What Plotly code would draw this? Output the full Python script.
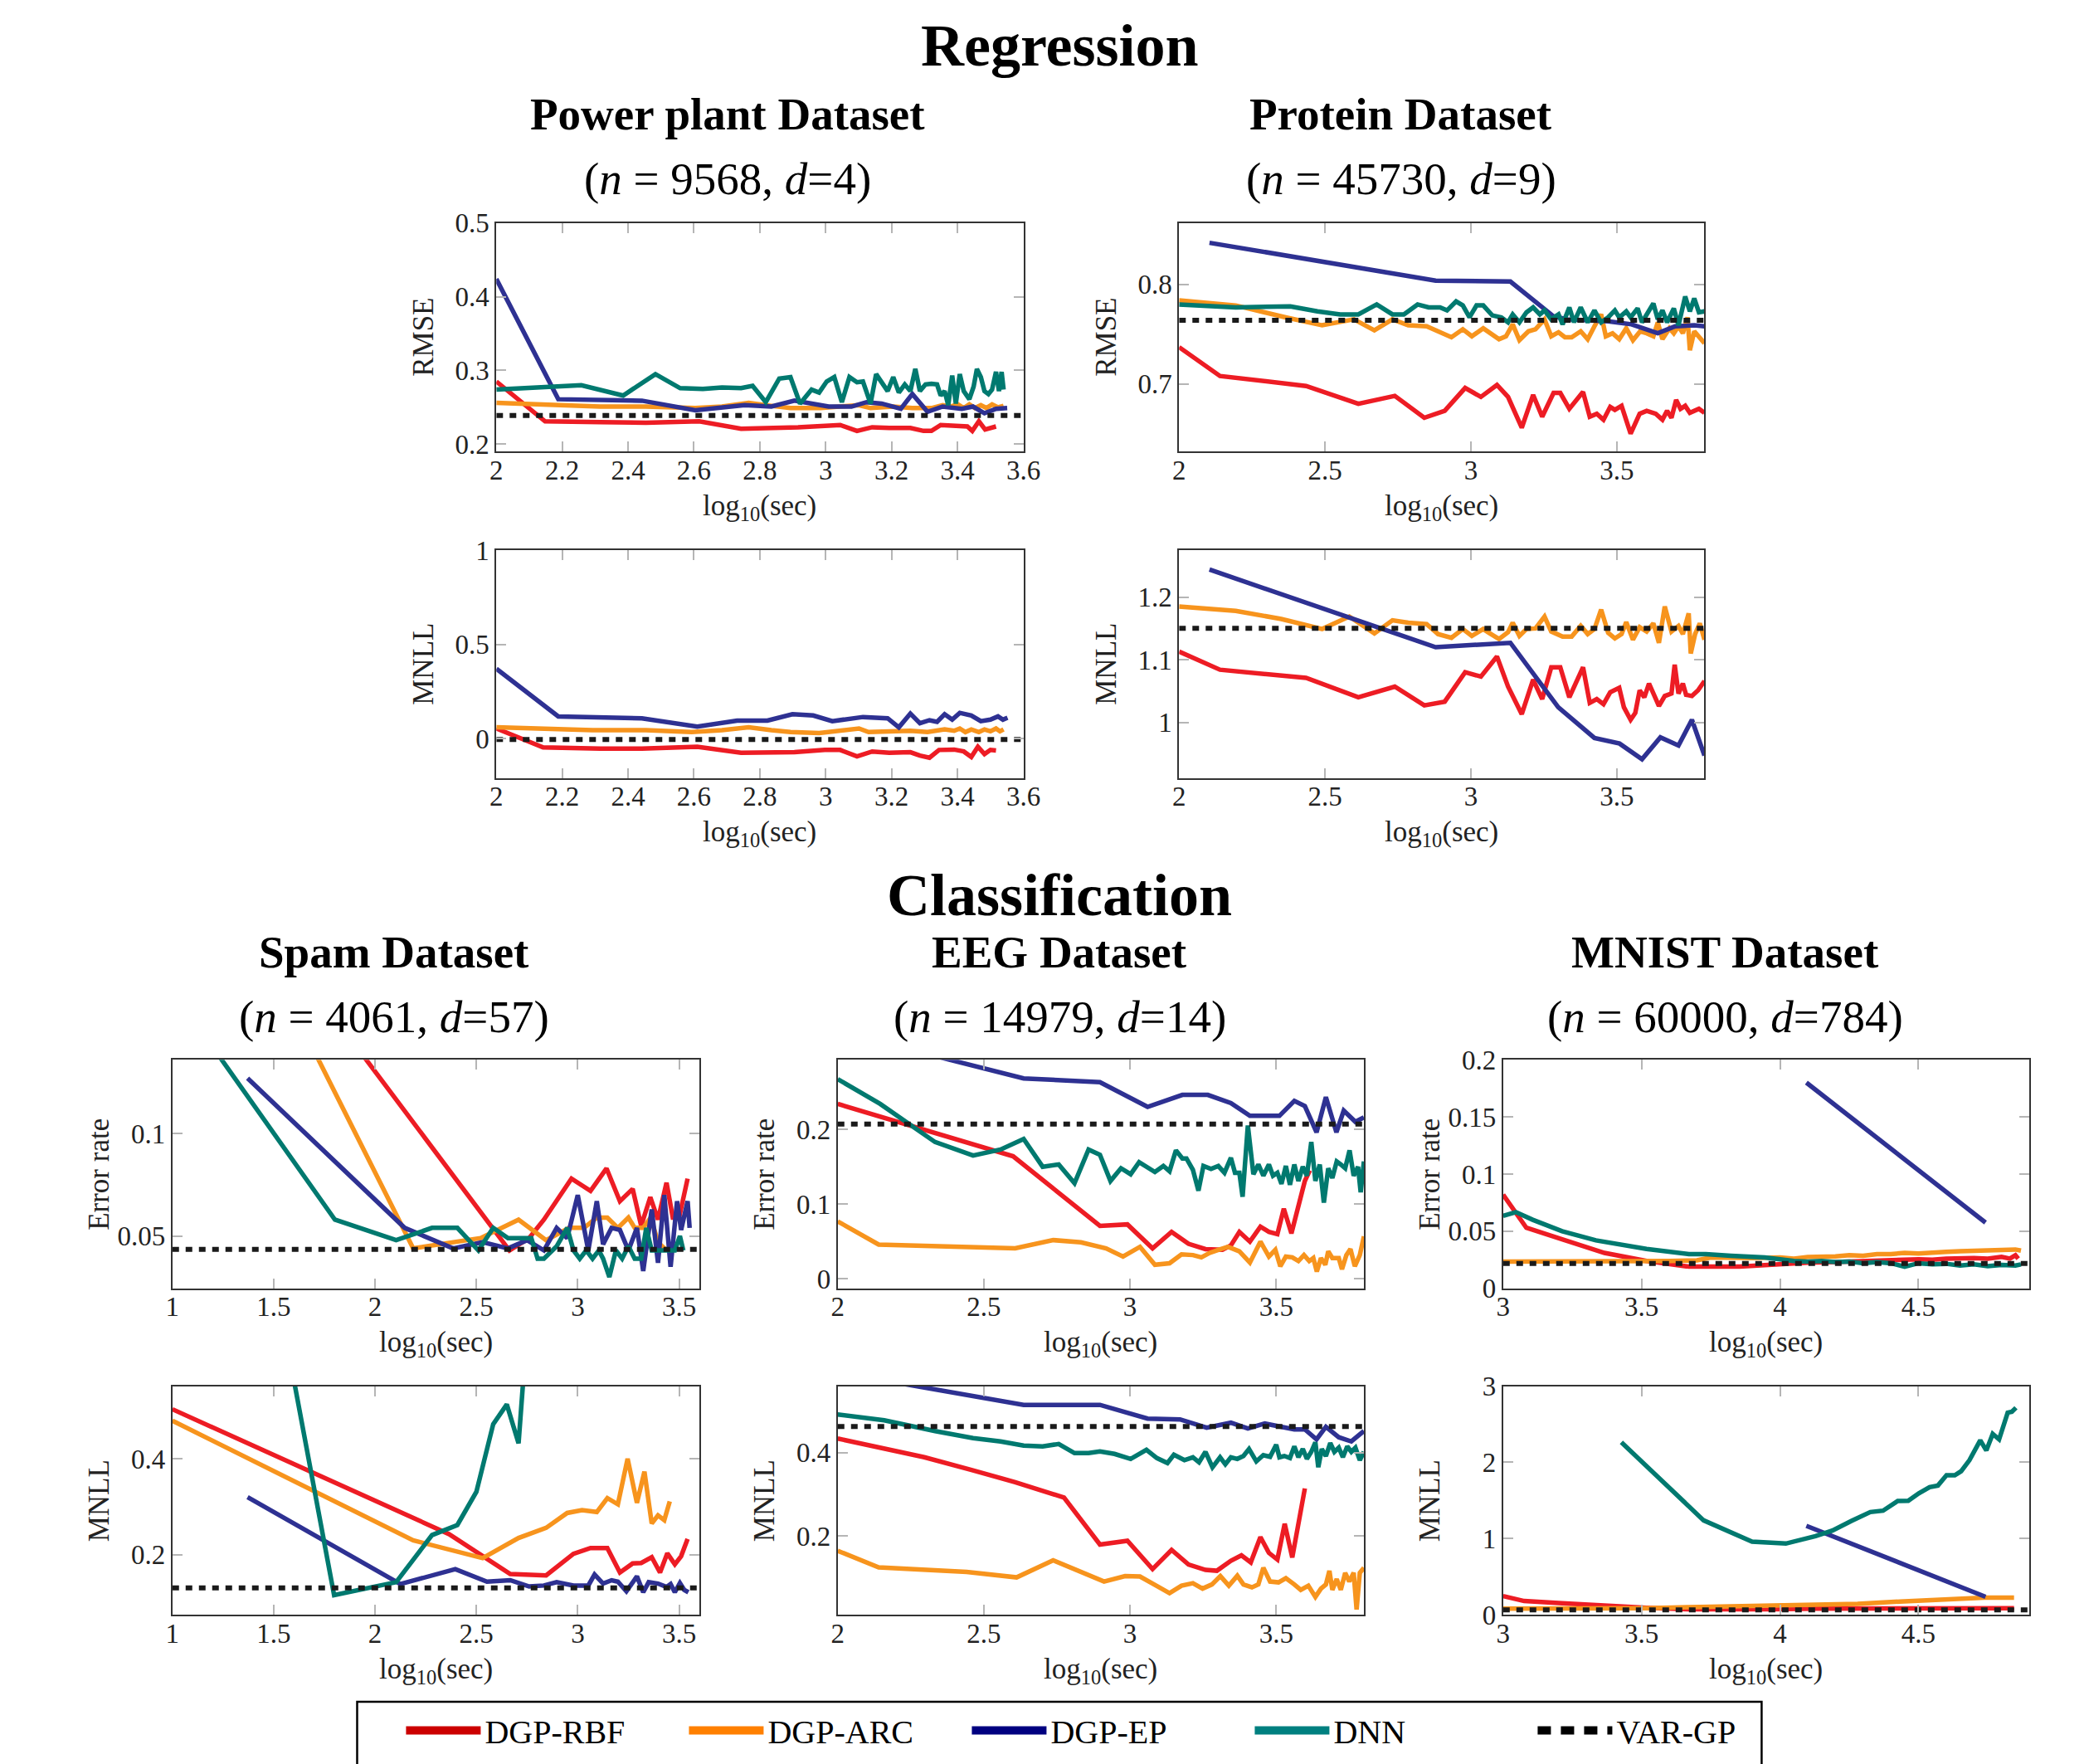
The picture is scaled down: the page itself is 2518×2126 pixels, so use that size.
import plotly.graph_objects as go

# ---------------- DATA ----------------
SERIES_NAMES = ["DGP-RBF", "DGP-ARC", "DGP-EP", "DNN", "VAR-GP"]

# Power plant RMSE
PP_RMSE_RBF_X = [2.0, 2.148, 2.315, 2.454, 2.616, 2.743, 2.916, 3.044, 3.095, 3.141, 3.193, 3.257, 3.297, 3.321, 3.349, 3.401, 3.43, 3.445, 3.465, 3.484, 3.517]
PP_RMSE_RBF_Y = [0.285, 0.231, 0.230, 0.229, 0.231, 0.221, 0.223, 0.226, 0.218, 0.223, 0.222, 0.222, 0.218, 0.218, 0.226, 0.225, 0.224, 0.218, 0.231, 0.220, 0.224]
PP_RMSE_ARC_X = [2.0, 2.2, 2.315, 2.454, 2.604, 2.685, 2.766, 2.835, 2.893, 2.985, 3.066, 3.1, 3.136, 3.205, 3.263, 3.321, 3.355, 3.378, 3.401, 3.419, 3.436, 3.453, 3.471, 3.488, 3.505, 3.523, 3.54]
PP_RMSE_ARC_Y = [0.256, 0.253, 0.251, 0.251, 0.249, 0.251, 0.256, 0.252, 0.249, 0.249, 0.251, 0.253, 0.249, 0.251, 0.249, 0.249, 0.253, 0.251, 0.254, 0.249, 0.254, 0.249, 0.253, 0.249, 0.254, 0.250, 0.252]
PP_RMSE_EP_X = [2.0, 2.188, 2.442, 2.604, 2.754, 2.835, 2.905, 2.962, 3.009, 3.078, 3.124, 3.17, 3.228, 3.263, 3.309, 3.355, 3.413, 3.447, 3.482, 3.517, 3.551]
PP_RMSE_EP_Y = [0.424, 0.261, 0.259, 0.246, 0.253, 0.251, 0.259, 0.255, 0.251, 0.251, 0.257, 0.255, 0.248, 0.268, 0.244, 0.251, 0.248, 0.251, 0.242, 0.248, 0.249]
PP_RMSE_DNN_X = [2.0, 2.258, 2.385, 2.483, 2.558, 2.627, 2.685, 2.743, 2.778, 2.818, 2.859, 2.893, 2.922, 2.957, 2.98, 3.003, 3.026, 3.049, 3.072, 3.095, 3.113, 3.136, 3.153, 3.17, 3.188, 3.205, 3.222, 3.24, 3.257, 3.272, 3.286, 3.303, 3.321, 3.338, 3.349, 3.361, 3.372, 3.384, 3.395, 3.407, 3.419, 3.436, 3.449, 3.459, 3.471, 3.482, 3.494, 3.505, 3.517, 3.526, 3.534, 3.54]
PP_RMSE_DNN_Y = [0.274, 0.280, 0.266, 0.295, 0.276, 0.275, 0.277, 0.276, 0.279, 0.257, 0.289, 0.291, 0.255, 0.274, 0.270, 0.285, 0.291, 0.257, 0.291, 0.284, 0.285, 0.255, 0.295, 0.283, 0.272, 0.291, 0.270, 0.281, 0.272, 0.302, 0.272, 0.281, 0.282, 0.281, 0.266, 0.272, 0.253, 0.293, 0.255, 0.295, 0.272, 0.261, 0.278, 0.302, 0.291, 0.272, 0.268, 0.274, 0.298, 0.272, 0.298, 0.274]
PP_RMSE_VAR = 0.239

# Protein RMSE
PR_RMSE_RBF_X = [2.0, 2.14, 2.435, 2.614, 2.739, 2.84, 2.91, 2.98, 3.034, 3.089, 3.127, 3.174, 3.213, 3.244, 3.283, 3.306, 3.337, 3.384, 3.407, 3.431, 3.454, 3.477, 3.493, 3.516, 3.547, 3.578, 3.602, 3.633, 3.656, 3.672, 3.687, 3.703, 3.718, 3.734, 3.75, 3.765, 3.781, 3.8]
PR_RMSE_RBF_Y = [0.737, 0.708, 0.698, 0.680, 0.688, 0.666, 0.673, 0.696, 0.687, 0.699, 0.687, 0.656, 0.689, 0.667, 0.691, 0.691, 0.675, 0.692, 0.667, 0.670, 0.664, 0.677, 0.674, 0.678, 0.650, 0.670, 0.673, 0.670, 0.664, 0.673, 0.666, 0.684, 0.675, 0.678, 0.671, 0.673, 0.675, 0.671]
PR_RMSE_ARC_X = [2.0, 2.194, 2.365, 2.49, 2.599, 2.669, 2.731, 2.785, 2.848, 2.933, 2.972, 3.003, 3.042, 3.096, 3.12, 3.143, 3.166, 3.197, 3.221, 3.252, 3.275, 3.3, 3.322, 3.345, 3.376, 3.4, 3.423, 3.446, 3.462, 3.485, 3.508, 3.532, 3.555, 3.58, 3.602, 3.625, 3.64, 3.656, 3.68, 3.695, 3.711, 3.726, 3.742, 3.75, 3.765, 3.781, 3.8]
PR_RMSE_ARC_Y = [0.784, 0.779, 0.767, 0.759, 0.765, 0.754, 0.765, 0.759, 0.758, 0.747, 0.755, 0.748, 0.756, 0.745, 0.748, 0.760, 0.744, 0.753, 0.755, 0.765, 0.748, 0.752, 0.747, 0.747, 0.753, 0.745, 0.758, 0.770, 0.748, 0.751, 0.745, 0.756, 0.744, 0.753, 0.751, 0.748, 0.762, 0.745, 0.756, 0.751, 0.758, 0.751, 0.767, 0.734, 0.753, 0.748, 0.741]
PR_RMSE_EP_X = [2.104, 2.879, 3.135, 3.283, 3.33, 3.4, 3.47, 3.55, 3.64, 3.7, 3.765, 3.8]
PR_RMSE_EP_Y = [0.842, 0.804, 0.803, 0.768, 0.765, 0.764, 0.763, 0.760, 0.751, 0.758, 0.759, 0.758]
PR_RMSE_DNN_X = [2.0, 2.194, 2.381, 2.474, 2.552, 2.614, 2.677, 2.731, 2.77, 2.817, 2.855, 2.894, 2.918, 2.949, 2.972, 2.995, 3.019, 3.042, 3.073, 3.104, 3.127, 3.143, 3.166, 3.19, 3.213, 3.236, 3.252, 3.275, 3.3, 3.314, 3.337, 3.353, 3.376, 3.4, 3.423, 3.446, 3.47, 3.493, 3.508, 3.532, 3.547, 3.571, 3.586, 3.602, 3.625, 3.64, 3.656, 3.672, 3.695, 3.711, 3.734, 3.75, 3.765, 3.781, 3.8]
PR_RMSE_DNN_Y = [0.780, 0.777, 0.778, 0.773, 0.770, 0.770, 0.780, 0.770, 0.770, 0.780, 0.777, 0.777, 0.774, 0.783, 0.779, 0.767, 0.779, 0.779, 0.769, 0.767, 0.762, 0.770, 0.762, 0.772, 0.777, 0.770, 0.774, 0.765, 0.770, 0.760, 0.777, 0.762, 0.777, 0.762, 0.774, 0.762, 0.767, 0.774, 0.767, 0.773, 0.767, 0.776, 0.762, 0.770, 0.781, 0.765, 0.774, 0.762, 0.776, 0.759, 0.788, 0.773, 0.786, 0.772, 0.773]
PR_RMSE_VAR = 0.764

# Power plant MNLL
PP_MNLL_RBF_X = [2.0, 2.142, 2.315, 2.442, 2.61, 2.743, 2.905, 2.997, 3.044, 3.095, 3.141, 3.193, 3.257, 3.286, 3.315, 3.344, 3.39, 3.419, 3.442, 3.462, 3.482, 3.5, 3.517]
PP_MNLL_RBF_Y = [0.053, -0.047, -0.054, -0.054, -0.044, -0.076, -0.073, -0.061, -0.061, -0.095, -0.069, -0.076, -0.073, -0.091, -0.102, -0.061, -0.059, -0.069, -0.098, -0.044, -0.083, -0.061, -0.064]
PP_MNLL_ARC_X = [2.0, 2.188, 2.292, 2.454, 2.593, 2.685, 2.766, 2.835, 2.893, 2.98, 3.044, 3.101, 3.13, 3.193, 3.257, 3.309, 3.361, 3.39, 3.407, 3.424, 3.442, 3.465, 3.482, 3.5, 3.517, 3.529, 3.54]
PP_MNLL_ARC_Y = [0.059, 0.048, 0.044, 0.044, 0.034, 0.044, 0.059, 0.044, 0.034, 0.029, 0.044, 0.053, 0.034, 0.038, 0.041, 0.034, 0.048, 0.041, 0.053, 0.034, 0.048, 0.034, 0.048, 0.038, 0.053, 0.038, 0.048]
PP_MNLL_EP_X = [2.0, 2.188, 2.442, 2.61, 2.731, 2.823, 2.899, 2.962, 3.02, 3.113, 3.188, 3.222, 3.257, 3.286, 3.315, 3.338, 3.361, 3.384, 3.407, 3.442, 3.471, 3.5, 3.523, 3.538, 3.552]
PP_MNLL_EP_Y = [0.370, 0.117, 0.107, 0.063, 0.095, 0.095, 0.129, 0.122, 0.092, 0.114, 0.107, 0.059, 0.132, 0.081, 0.097, 0.088, 0.129, 0.100, 0.136, 0.122, 0.092, 0.100, 0.117, 0.100, 0.110]
PP_MNLL_DNN_X = []
PP_MNLL_DNN_Y = []
PP_MNLL_VAR = -0.005

# Protein MNLL
PR_MNLL_RBF_X = [2.0, 2.14, 2.435, 2.614, 2.739, 2.84, 2.91, 2.98, 3.034, 3.089, 3.127, 3.174, 3.213, 3.244, 3.275, 3.306, 3.337, 3.384, 3.407, 3.431, 3.454, 3.477, 3.508, 3.524, 3.547, 3.563, 3.578, 3.594, 3.61, 3.625, 3.644, 3.664, 3.687, 3.698, 3.711, 3.726, 3.737, 3.757, 3.778, 3.8]
PR_MNLL_RBF_Y = [1.113, 1.084, 1.071, 1.040, 1.057, 1.027, 1.033, 1.080, 1.073, 1.105, 1.057, 1.013, 1.068, 1.037, 1.088, 1.088, 1.040, 1.088, 1.031, 1.037, 1.029, 1.048, 1.055, 1.024, 1.004, 1.015, 1.051, 1.040, 1.062, 1.046, 1.026, 1.042, 1.046, 1.092, 1.046, 1.062, 1.044, 1.042, 1.051, 1.066]
PR_MNLL_ARC_X = [2.0, 2.194, 2.35, 2.49, 2.583, 2.669, 2.731, 2.785, 2.848, 2.887, 2.933, 2.972, 3.003, 3.042, 3.058, 3.096, 3.127, 3.143, 3.166, 3.19, 3.221, 3.252, 3.275, 3.314, 3.345, 3.376, 3.4, 3.423, 3.446, 3.47, 3.493, 3.516, 3.532, 3.555, 3.578, 3.602, 3.625, 3.644, 3.664, 3.687, 3.711, 3.726, 3.746, 3.753, 3.768, 3.784, 3.8]
PR_MNLL_ARC_Y = [1.185, 1.178, 1.165, 1.149, 1.169, 1.142, 1.163, 1.159, 1.157, 1.141, 1.135, 1.149, 1.138, 1.149, 1.144, 1.133, 1.144, 1.159, 1.138, 1.149, 1.150, 1.169, 1.145, 1.137, 1.137, 1.154, 1.141, 1.149, 1.180, 1.143, 1.134, 1.141, 1.160, 1.132, 1.152, 1.145, 1.158, 1.127, 1.185, 1.145, 1.154, 1.141, 1.174, 1.110, 1.141, 1.158, 1.132]
PR_MNLL_EP_X = [2.104, 2.879, 3.135, 3.299, 3.423, 3.509, 3.586, 3.649, 3.711, 3.757, 3.8]
PR_MNLL_EP_Y = [1.244, 1.120, 1.127, 1.024, 0.975, 0.966, 0.941, 0.976, 0.963, 1.004, 0.947]
PR_MNLL_DNN_X = []
PR_MNLL_DNN_Y = []
PR_MNLL_VAR = 1.15

# Spam error rate
SP_ERR_RBF_X = [1.85, 2.663, 2.76, 2.833, 2.969, 3.063, 3.142, 3.208, 3.271, 3.313, 3.358, 3.396, 3.438, 3.469, 3.5, 3.542]
SP_ERR_RBF_Y = [0.150, 0.043, 0.049, 0.058, 0.078, 0.072, 0.083, 0.067, 0.073, 0.055, 0.069, 0.058, 0.076, 0.059, 0.059, 0.078]
SP_ERR_ARC_X = [1.65, 2.188, 2.521, 2.708, 2.844, 2.958, 3.031, 3.094, 3.146, 3.198, 3.25, 3.281, 3.323, 3.36, 3.396, 3.438]
SP_ERR_ARC_Y = [0.150, 0.044, 0.049, 0.058, 0.048, 0.054, 0.054, 0.059, 0.059, 0.054, 0.059, 0.054, 0.054, 0.059, 0.047, 0.043]
SP_ERR_EP_X = [1.371, 2.146, 2.385, 2.531, 2.656, 2.75, 2.833, 2.896, 2.948, 3.0, 3.052, 3.094, 3.125, 3.167, 3.208, 3.25, 3.292, 3.323, 3.365, 3.396, 3.427, 3.458, 3.49, 3.51, 3.542, 3.552]
SP_ERR_EP_Y = [0.127, 0.054, 0.044, 0.047, 0.044, 0.048, 0.043, 0.054, 0.049, 0.070, 0.043, 0.067, 0.046, 0.054, 0.053, 0.043, 0.054, 0.033, 0.063, 0.037, 0.070, 0.035, 0.067, 0.053, 0.067, 0.054]
SP_ERR_DNN_X = [1.1, 1.802, 2.104, 2.281, 2.406, 2.51, 2.583, 2.656, 2.771, 2.802, 2.833, 2.896, 2.948, 2.979, 3.01, 3.042, 3.073, 3.104, 3.125, 3.156, 3.188, 3.219, 3.25, 3.281, 3.313, 3.338, 3.365, 3.396, 3.438, 3.479, 3.504, 3.521]
SP_ERR_DNN_Y = [0.156, 0.058, 0.048, 0.054, 0.054, 0.043, 0.054, 0.049, 0.049, 0.039, 0.039, 0.045, 0.054, 0.043, 0.039, 0.043, 0.039, 0.043, 0.039, 0.030, 0.043, 0.039, 0.045, 0.039, 0.039, 0.054, 0.043, 0.043, 0.043, 0.043, 0.050, 0.043]
SP_ERR_VAR = 0.0435

# EEG error rate
EG_ERR_RBF_X = [2.0, 2.6, 2.897, 2.991, 3.077, 3.142, 3.2, 3.258, 3.316, 3.345, 3.374, 3.41, 3.446, 3.475, 3.504, 3.526, 3.552, 3.598, 3.615]
EG_ERR_RBF_Y = [0.234, 0.164, 0.071, 0.073, 0.041, 0.063, 0.047, 0.040, 0.039, 0.045, 0.063, 0.050, 0.070, 0.063, 0.060, 0.094, 0.061, 0.131, 0.145]
EG_ERR_ARC_X = [2.0, 2.14, 2.607, 2.737, 2.832, 2.918, 2.976, 3.034, 3.085, 3.135, 3.176, 3.215, 3.244, 3.273, 3.302, 3.335, 3.374, 3.41, 3.446, 3.475, 3.497, 3.514, 3.533, 3.555, 3.576, 3.595, 3.613, 3.627, 3.639, 3.653, 3.668, 3.678, 3.692, 3.714, 3.725, 3.74, 3.754, 3.769, 3.786, 3.8]
EG_ERR_ARC_Y = [0.077, 0.046, 0.041, 0.052, 0.049, 0.041, 0.030, 0.043, 0.019, 0.021, 0.033, 0.032, 0.029, 0.035, 0.039, 0.043, 0.037, 0.022, 0.050, 0.030, 0.039, 0.017, 0.030, 0.029, 0.024, 0.032, 0.024, 0.028, 0.010, 0.028, 0.019, 0.037, 0.028, 0.028, 0.013, 0.032, 0.040, 0.017, 0.032, 0.057]
EG_ERR_EP_X = [2.2, 2.636, 2.897, 3.06, 3.179, 3.266, 3.345, 3.41, 3.511, 3.562, 3.598, 3.638, 3.67, 3.706, 3.731, 3.771, 3.8]
EG_ERR_EP_Y = [0.311, 0.268, 0.263, 0.230, 0.246, 0.246, 0.235, 0.218, 0.218, 0.238, 0.231, 0.196, 0.243, 0.196, 0.225, 0.210, 0.216]
EG_ERR_DNN_X = [2.0, 2.145, 2.333, 2.463, 2.557, 2.636, 2.701, 2.756, 2.81, 2.858, 2.897, 2.933, 2.969, 3.002, 3.031, 3.085, 3.114, 3.135, 3.157, 3.179, 3.193, 3.215, 3.234, 3.251, 3.277, 3.302, 3.323, 3.345, 3.359, 3.374, 3.385, 3.403, 3.422, 3.439, 3.456, 3.475, 3.489, 3.504, 3.518, 3.533, 3.547, 3.562, 3.576, 3.591, 3.605, 3.62, 3.634, 3.649, 3.663, 3.678, 3.692, 3.707, 3.721, 3.736, 3.751, 3.765, 3.78, 3.789, 3.8]
EG_ERR_DNN_Y = [0.267, 0.234, 0.183, 0.165, 0.173, 0.187, 0.150, 0.153, 0.128, 0.173, 0.166, 0.131, 0.148, 0.140, 0.156, 0.143, 0.151, 0.144, 0.172, 0.161, 0.161, 0.146, 0.118, 0.151, 0.147, 0.151, 0.142, 0.162, 0.142, 0.142, 0.110, 0.205, 0.140, 0.153, 0.138, 0.153, 0.138, 0.142, 0.127, 0.151, 0.126, 0.153, 0.131, 0.150, 0.138, 0.183, 0.131, 0.153, 0.102, 0.148, 0.135, 0.157, 0.153, 0.148, 0.172, 0.138, 0.150, 0.116, 0.157]
EG_ERR_VAR = 0.207

# MNIST error rate
MN_ERR_RBF_X = [3.0, 3.084, 3.213, 3.366, 3.518, 3.671, 3.854, 4.006, 4.1, 4.2, 4.3, 4.35, 4.4, 4.5, 4.55, 4.6, 4.7, 4.75, 4.8, 4.83, 4.85, 4.86]
MN_ERR_RBF_Y = [0.082, 0.053, 0.043, 0.031, 0.024, 0.019, 0.019, 0.0215, 0.0225, 0.023, 0.024, 0.0245, 0.024, 0.0255, 0.025, 0.026, 0.0265, 0.026, 0.0275, 0.026, 0.029, 0.026]
MN_ERR_ARC_X = [3.0, 3.3, 3.6, 3.7, 3.75, 3.9, 4.0, 4.05, 4.1, 4.2, 4.25, 4.3, 4.35, 4.4, 4.45, 4.5, 4.55, 4.6, 4.65, 4.7, 4.75, 4.8, 4.85, 4.87]
MN_ERR_ARC_Y = [0.0235, 0.0235, 0.024, 0.0245, 0.027, 0.0265, 0.027, 0.026, 0.0275, 0.028, 0.029, 0.0285, 0.030, 0.030, 0.031, 0.0305, 0.0315, 0.032, 0.0325, 0.033, 0.033, 0.034, 0.034, 0.033]
MN_ERR_EP_X = [4.095, 4.742]
MN_ERR_EP_Y = [0.180, 0.0575]
MN_ERR_DNN_X = [3.0, 3.046, 3.107, 3.213, 3.335, 3.427, 3.518, 3.671, 3.732, 3.823, 3.945, 4.05, 4.1, 4.15, 4.2, 4.25, 4.3, 4.35, 4.4, 4.45, 4.5, 4.55, 4.6, 4.65, 4.7, 4.75, 4.8, 4.85, 4.87]
MN_ERR_DNN_Y = [0.0635, 0.0667, 0.060, 0.050, 0.042, 0.038, 0.0345, 0.030, 0.030, 0.0285, 0.027, 0.024, 0.0235, 0.024, 0.023, 0.0235, 0.022, 0.023, 0.022, 0.019, 0.022, 0.021, 0.0215, 0.020, 0.021, 0.0195, 0.0205, 0.020, 0.021]
MN_ERR_VAR = 0.0217

# Spam MNLL
SP_MNLL_RBF_X = [1.0, 2.365, 2.667, 2.844, 2.979, 3.063, 3.146, 3.208, 3.271, 3.313, 3.365, 3.406, 3.442, 3.479, 3.51, 3.542]
SP_MNLL_RBF_Y = [0.503, 0.243, 0.160, 0.157, 0.202, 0.214, 0.214, 0.163, 0.182, 0.183, 0.195, 0.163, 0.203, 0.180, 0.197, 0.233]
SP_MNLL_ARC_X = [1.0, 2.188, 2.531, 2.708, 2.844, 2.948, 3.021, 3.094, 3.146, 3.198, 3.246, 3.292, 3.329, 3.365, 3.396, 3.427, 3.454]
SP_MNLL_ARC_Y = [0.479, 0.230, 0.193, 0.235, 0.256, 0.287, 0.293, 0.289, 0.318, 0.305, 0.400, 0.308, 0.373, 0.265, 0.282, 0.272, 0.311]
SP_MNLL_EP_X = [1.371, 2.125, 2.396, 2.552, 2.667, 2.76, 2.833, 2.896, 2.979, 3.052, 3.083, 3.125, 3.167, 3.198, 3.24, 3.292, 3.323, 3.35, 3.396, 3.438, 3.458, 3.479, 3.504, 3.525, 3.546]
SP_MNLL_EP_Y = [0.320, 0.139, 0.170, 0.144, 0.147, 0.134, 0.136, 0.143, 0.136, 0.136, 0.159, 0.140, 0.147, 0.144, 0.124, 0.155, 0.122, 0.143, 0.140, 0.133, 0.139, 0.122, 0.141, 0.127, 0.122]
SP_MNLL_DNN_X = [1.57, 1.798, 2.104, 2.281, 2.406, 2.5, 2.583, 2.65, 2.708, 2.76]
SP_MNLL_DNN_Y = [0.630, 0.116, 0.143, 0.241, 0.262, 0.331, 0.472, 0.513, 0.432, 0.727]
SP_MNLL_VAR = 0.131

# EEG MNLL
EG_MNLL_RBF_X = [2.0, 2.296, 2.455, 2.607, 2.774, 2.897, 2.991, 3.077, 3.142, 3.2, 3.258, 3.297, 3.345, 3.381, 3.413, 3.446, 3.475, 3.504, 3.529, 3.555, 3.598]
EG_MNLL_RBF_Y = [0.434, 0.389, 0.359, 0.329, 0.292, 0.179, 0.188, 0.120, 0.166, 0.131, 0.118, 0.116, 0.140, 0.153, 0.136, 0.197, 0.159, 0.143, 0.229, 0.148, 0.314]
EG_MNLL_ARC_X = [2.0, 2.14, 2.441, 2.612, 2.737, 2.911, 2.983, 3.034, 3.085, 3.135, 3.176, 3.215, 3.248, 3.28, 3.309, 3.338, 3.367, 3.388, 3.417, 3.439, 3.456, 3.479, 3.508, 3.533, 3.562, 3.584, 3.61, 3.634, 3.653, 3.67, 3.682, 3.692, 3.707, 3.721, 3.736, 3.75, 3.765, 3.775, 3.786, 3.8]
EG_MNLL_ARC_Y = [0.164, 0.124, 0.113, 0.100, 0.141, 0.090, 0.103, 0.102, 0.082, 0.062, 0.080, 0.086, 0.073, 0.083, 0.103, 0.080, 0.104, 0.083, 0.076, 0.083, 0.123, 0.090, 0.088, 0.098, 0.083, 0.070, 0.080, 0.053, 0.073, 0.083, 0.116, 0.070, 0.096, 0.070, 0.111, 0.090, 0.111, 0.023, 0.111, 0.123]
EG_MNLL_EP_X = [2.0, 2.636, 2.897, 3.06, 3.171, 3.262, 3.345, 3.403, 3.461, 3.511, 3.562, 3.598, 3.638, 3.67, 3.714, 3.757, 3.8]
EG_MNLL_EP_Y = [0.593, 0.515, 0.515, 0.482, 0.480, 0.460, 0.472, 0.458, 0.470, 0.462, 0.456, 0.456, 0.432, 0.462, 0.437, 0.427, 0.452]
EG_MNLL_DNN_X = [2.0, 2.159, 2.333, 2.463, 2.557, 2.636, 2.701, 2.756, 2.81, 2.858, 2.897, 2.947, 3.002, 3.056, 3.092, 3.128, 3.15, 3.186, 3.215, 3.236, 3.258, 3.282, 3.308, 3.326, 3.345, 3.367, 3.388, 3.407, 3.432, 3.456, 3.479, 3.5, 3.511, 3.528, 3.547, 3.562, 3.576, 3.591, 3.605, 3.62, 3.634, 3.644, 3.656, 3.67, 3.685, 3.699, 3.714, 3.728, 3.743, 3.757, 3.771, 3.786, 3.8]
EG_MNLL_DNN_Y = [0.492, 0.478, 0.452, 0.435, 0.427, 0.417, 0.415, 0.421, 0.399, 0.399, 0.403, 0.397, 0.385, 0.407, 0.387, 0.375, 0.395, 0.382, 0.389, 0.377, 0.402, 0.365, 0.389, 0.372, 0.389, 0.385, 0.392, 0.409, 0.379, 0.394, 0.390, 0.419, 0.389, 0.392, 0.387, 0.415, 0.389, 0.409, 0.385, 0.402, 0.425, 0.365, 0.409, 0.392, 0.423, 0.402, 0.412, 0.389, 0.415, 0.402, 0.412, 0.382, 0.402]
EG_MNLL_VAR = 0.463

# MNIST MNLL
MN_MNLL_RBF_X = [3.0, 3.076, 3.213, 3.366, 3.518, 3.671, 3.823, 3.976, 4.128, 4.28, 4.433, 4.585, 4.738, 4.845]
MN_MNLL_RBF_Y = [0.246, 0.181, 0.152, 0.116, 0.091, 0.072, 0.065, 0.072, 0.080, 0.080, 0.080, 0.087, 0.087, 0.087]
MN_MNLL_ARC_X = [3.0, 3.213, 3.518, 3.671, 3.823, 3.976, 4.128, 4.28, 4.433, 4.585, 4.738, 4.845]
MN_MNLL_ARC_Y = [0.080, 0.080, 0.087, 0.101, 0.109, 0.123, 0.127, 0.145, 0.174, 0.199, 0.225, 0.225]
MN_MNLL_EP_X = [4.095, 4.742]
MN_MNLL_EP_Y = [1.167, 0.236]
MN_MNLL_DNN_X = [3.427, 3.724, 3.899, 4.021, 4.128, 4.189, 4.258, 4.326, 4.372, 4.425, 4.463, 4.501, 4.54, 4.57, 4.601, 4.631, 4.654, 4.684, 4.723, 4.745, 4.768, 4.791, 4.822, 4.837, 4.852]
MN_MNLL_DNN_Y = [2.264, 1.239, 0.960, 0.935, 1.033, 1.105, 1.232, 1.348, 1.366, 1.493, 1.496, 1.594, 1.674, 1.696, 1.830, 1.830, 1.884, 2.029, 2.290, 2.156, 2.373, 2.301, 2.652, 2.663, 2.717]
MN_MNLL_VAR = 0.065

# Tick labels
TICKS_PP_X = [2, 2.2, 2.4, 2.6, 2.8, 3, 3.2, 3.4, 3.6]
TICKS_PR_X = [2, 2.5, 3, 3.5]
TICKS_SP_X = [1, 1.5, 2, 2.5, 3, 3.5]
TICKS_EG_X = [2, 2.5, 3, 3.5]
TICKS_MN_X = [3, 3.5, 4, 4.5]
TICKS_PP_RMSE_Y = [0.2, 0.3, 0.4, 0.5]
TICKS_PR_RMSE_Y = [0.7, 0.8]
TICKS_PP_MNLL_Y = [0, 0.5, 1]
TICKS_PR_MNLL_Y = [1, 1.1, 1.2]
TICKS_SP_ERR_Y = [0.05, 0.1]
TICKS_EG_ERR_Y = [0, 0.1, 0.2]
TICKS_MN_ERR_Y = [0, 0.05, 0.1, 0.15, 0.2]
TICKS_SP_MNLL_Y = [0.2, 0.4]
TICKS_EG_MNLL_Y = [0.2, 0.4]
TICKS_MN_MNLL_Y = [0, 1, 2, 3]

# ---------------- STYLE / LAYOUT ----------------
W, H = 2518, 2126
FONT = "Liberation Serif"
COLORS = ["#ED1C24", "#F7941D", "#2E3192", "#00796F", "#1A1A1A"]
LEGEND_COLORS = ["#CC0000", "#FF8000", "#000080", "#008080", "#000000"]


# page-pixel calibration (target pixel position -> figure pixel position)
def PX(x):
    return (x - 15) / 0.9897


def PY(y):
    return (y - 23) / 0.9845


panels = [
    dict(box=(598, 267, 1234, 543), xr=[2, 3.6], yr=[0.19, 0.5], xt=TICKS_PP_X, yt=TICKS_PP_RMSE_Y, ytitle="RMSE",
         s=[(PP_RMSE_RBF_X, PP_RMSE_RBF_Y), (PP_RMSE_ARC_X, PP_RMSE_ARC_Y), (PP_RMSE_EP_X, PP_RMSE_EP_Y), (PP_RMSE_DNN_X, PP_RMSE_DNN_Y)], var=PP_RMSE_VAR),
    dict(box=(1422, 267, 2056, 543), xr=[2, 3.8], yr=[0.632, 0.862], xt=TICKS_PR_X, yt=TICKS_PR_RMSE_Y, ytitle="RMSE",
         s=[(PR_RMSE_RBF_X, PR_RMSE_RBF_Y), (PR_RMSE_ARC_X, PR_RMSE_ARC_Y), (PR_RMSE_EP_X, PR_RMSE_EP_Y), (PR_RMSE_DNN_X, PR_RMSE_DNN_Y)], var=PR_RMSE_VAR),
    dict(box=(598, 662, 1234, 937), xr=[2, 3.6], yr=[-0.21, 1.0], xt=TICKS_PP_X, yt=TICKS_PP_MNLL_Y, ytitle="MNLL",
         s=[(PP_MNLL_RBF_X, PP_MNLL_RBF_Y), (PP_MNLL_ARC_X, PP_MNLL_ARC_Y), (PP_MNLL_EP_X, PP_MNLL_EP_Y), (PP_MNLL_DNN_X, PP_MNLL_DNN_Y)], var=PP_MNLL_VAR),
    dict(box=(1422, 662, 2056, 937), xr=[2, 3.8], yr=[0.911, 1.275], xt=TICKS_PR_X, yt=TICKS_PR_MNLL_Y, ytitle="MNLL",
         s=[(PR_MNLL_RBF_X, PR_MNLL_RBF_Y), (PR_MNLL_ARC_X, PR_MNLL_ARC_Y), (PR_MNLL_EP_X, PR_MNLL_EP_Y), (PR_MNLL_DNN_X, PR_MNLL_DNN_Y)], var=PR_MNLL_VAR),
    dict(box=(207, 1277, 843, 1553), xr=[1, 3.6], yr=[0.0245, 0.136], xt=TICKS_SP_X, yt=TICKS_SP_ERR_Y, ytitle="Error rate",
         s=[(SP_ERR_RBF_X, SP_ERR_RBF_Y), (SP_ERR_ARC_X, SP_ERR_ARC_Y), (SP_ERR_EP_X, SP_ERR_EP_Y), (SP_ERR_DNN_X, SP_ERR_DNN_Y)], var=SP_ERR_VAR),
    dict(box=(1010, 1277, 1645, 1553), xr=[2, 3.8], yr=[-0.0125, 0.293], xt=TICKS_EG_X, yt=TICKS_EG_ERR_Y, ytitle="Error rate",
         s=[(EG_ERR_RBF_X, EG_ERR_RBF_Y), (EG_ERR_ARC_X, EG_ERR_ARC_Y), (EG_ERR_EP_X, EG_ERR_EP_Y), (EG_ERR_DNN_X, EG_ERR_DNN_Y)], var=EG_ERR_VAR),
    dict(box=(1813, 1277, 2448, 1553), xr=[3, 4.9], yr=[0, 0.2], xt=TICKS_MN_X, yt=TICKS_MN_ERR_Y, ytitle="Error rate",
         s=[(MN_ERR_RBF_X, MN_ERR_RBF_Y), (MN_ERR_ARC_X, MN_ERR_ARC_Y), (MN_ERR_EP_X, MN_ERR_EP_Y), (MN_ERR_DNN_X, MN_ERR_DNN_Y)], var=MN_ERR_VAR),
    dict(box=(207, 1671, 843, 1947), xr=[1, 3.6], yr=[0.075, 0.551], xt=TICKS_SP_X, yt=TICKS_SP_MNLL_Y, ytitle="MNLL",
         s=[(SP_MNLL_RBF_X, SP_MNLL_RBF_Y), (SP_MNLL_ARC_X, SP_MNLL_ARC_Y), (SP_MNLL_EP_X, SP_MNLL_EP_Y), (SP_MNLL_DNN_X, SP_MNLL_DNN_Y)], var=SP_MNLL_VAR),
    dict(box=(1010, 1671, 1645, 1947), xr=[2, 3.8], yr=[0.01, 0.56], xt=TICKS_EG_X, yt=TICKS_EG_MNLL_Y, ytitle="MNLL",
         s=[(EG_MNLL_RBF_X, EG_MNLL_RBF_Y), (EG_MNLL_ARC_X, EG_MNLL_ARC_Y), (EG_MNLL_EP_X, EG_MNLL_EP_Y), (EG_MNLL_DNN_X, EG_MNLL_DNN_Y)], var=EG_MNLL_VAR),
    dict(box=(1813, 1671, 2448, 1947), xr=[3, 4.9], yr=[0, 3], xt=TICKS_MN_X, yt=TICKS_MN_MNLL_Y, ytitle="MNLL",
         s=[(MN_MNLL_RBF_X, MN_MNLL_RBF_Y), (MN_MNLL_ARC_X, MN_MNLL_ARC_Y), (MN_MNLL_EP_X, MN_MNLL_EP_Y), (MN_MNLL_DNN_X, MN_MNLL_DNN_Y)], var=MN_MNLL_VAR),
]


def fmt(v):
    return "%g" % v


fig = go.Figure()
layout = {}
annotations = []

for i, p in enumerate(panels):
    n = i + 1
    xa = "x" if n == 1 else f"x{n}"
    ya = "y" if n == 1 else f"y{n}"
    bx0, by0, bx1, by1 = p["box"]
    x0, x1 = PX(bx0), PX(bx1)
    y0, y1 = PY(by0), PY(by1)
    for k, (xs, ys) in enumerate(p["s"]):
        if len(xs) == 0:
            continue
        fig.add_trace(go.Scatter(x=xs, y=ys, xaxis=xa, yaxis=ya, mode="lines",
                                 line=dict(color=COLORS[k], width=5.5), name=SERIES_NAMES[k],
                                 legendgroup=SERIES_NAMES[k], showlegend=False))
    fig.add_trace(go.Scatter(x=p["xr"], y=[p["var"], p["var"]], xaxis=xa, yaxis=ya, mode="lines",
                             line=dict(color=COLORS[4], width=6, dash="8px,8px"), name=SERIES_NAMES[4],
                             legendgroup=SERIES_NAMES[4], showlegend=False))

    common = dict(showline=True, linecolor="#333333", linewidth=2, mirror="ticks",
                  ticks="inside", ticklen=12, tickwidth=2, tickcolor="#b5b5b5",
                  showgrid=False, zeroline=False,
                  tickfont=dict(family=FONT, size=33, color="#222222"))
    layout["xaxis" if n == 1 else f"xaxis{n}"] = dict(
        domain=[x0 / W, x1 / W], range=p["xr"], anchor=ya, ticklabelstandoff=-8,
        tickvals=p["xt"], ticktext=[fmt(v) for v in p["xt"]], **common)
    layout["yaxis" if n == 1 else f"yaxis{n}"] = dict(
        domain=[1 - y1 / H, 1 - y0 / H], range=p["yr"], anchor=xa,
        tickvals=p["yt"], ticktext=[fmt(v) for v in p["yt"]], **common)

    # axis titles
    annotations.append(dict(text="log<sub>10</sub>(sec)", xref="paper", yref="paper",
                            x=PX((bx0 + bx1) / 2) / W, y=1 - PY(by1 + 67) / H,
                            xanchor="center", yanchor="middle", showarrow=False,
                            font=dict(family=FONT, size=35, color="#222222")))
    annotations.append(dict(text=p["ytitle"], xref="paper", yref="paper", textangle=-90,
                            x=PX(bx0 - 88) / W, y=1 - PY((by0 + by1) / 2) / H,
                            xanchor="center", yanchor="middle", showarrow=False,
                            font=dict(family=FONT, size=35, color="#222222")))

# legend entries (legend-only samples with the thick keys of the reference)
for k, name in enumerate(SERIES_NAMES):
    if k < 4:
        key_line = dict(color=LEGEND_COLORS[k], width=10)
    else:
        key_line = dict(color=LEGEND_COLORS[k], width=12, dash="16px,12px")
    fig.add_trace(go.Scatter(x=[None], y=[None], mode="lines", line=key_line, name=name,
                             legendgroup=name, showlegend=True, hoverinfo="skip"))

# titles
TITLES = [
    ("<b>Regression</b>", 1278, 53, 72),
    ("<b>Power plant Dataset</b>", 877, 136, 55),
    ("(<i>n</i> = 9568, <i>d</i>=4)", 877, 214, 55),
    ("<b>Protein Dataset</b>", 1690, 136, 55),
    ("(<i>n</i> = 45730, <i>d</i>=9)", 1690, 214, 55),
    ("<b>Classification</b>", 1278, 1079, 72),
    ("<b>Spam Dataset</b>", 475, 1147, 55),
    ("(<i>n</i> = 4061, <i>d</i>=57)", 475, 1225, 55),
    ("<b>EEG Dataset</b>", 1278, 1147, 55),
    ("(<i>n</i> = 14979, <i>d</i>=14)", 1278, 1225, 55),
    ("<b>MNIST Dataset</b>", 2081, 1147, 55),
    ("(<i>n</i> = 60000, <i>d</i>=784)", 2081, 1225, 55),
]
for text, tx, ty, size in TITLES:
    annotations.append(dict(text=text, xref="paper", yref="paper", x=PX(tx) / W, y=1 - PY(ty) / H,
                            xanchor="center", yanchor="middle", showarrow=False,
                            font=dict(family=FONT, size=size, color="black")))

# legend frame (extends past the bottom edge as in the reference)
shapes = [dict(type="rect", xref="paper", yref="paper", layer="above",
               x0=PX(430) / W, x1=PX(2125) / W, y0=1 - PY(2170) / H, y1=1 - PY(2052) / H,
               line=dict(color="black", width=2.5), fillcolor="rgba(0,0,0,0)")]

fig.update_layout(
    width=W, height=H,
    margin=dict(l=0, r=0, t=0, b=0),
    paper_bgcolor="white", plot_bgcolor="white",
    font=dict(family=FONT, color="black"),
    annotations=annotations,
    shapes=shapes,
    showlegend=True,
    legend=dict(orientation="h", x=PX(484) / W, y=1 - PY(2054) / H, xanchor="left", yanchor="top",
                borderwidth=0, bgcolor="rgba(0,0,0,0)",
                font=dict(family=FONT, size=40, color="black"),
                itemwidth=90, entrywidth=236, entrywidthmode="pixels", tracegroupgap=0),
    **layout,
)

fig.write_html("out.html")
